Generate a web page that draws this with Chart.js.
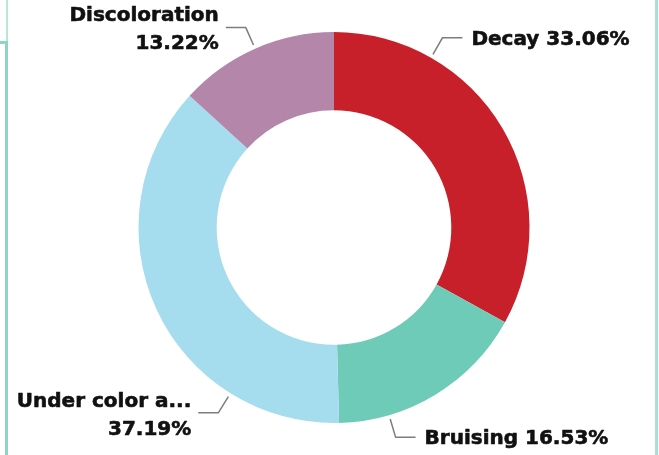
<!DOCTYPE html>
<html>
<head>
<meta charset="utf-8">
<script src="https://cdn.jsdelivr.net/npm/chart.js@4/dist/chart.umd.min.js"></script>
<style>
  html, body { margin: 0; padding: 0; background: #ffffff; }
  #wrap { position: relative; width: 659px; height: 455px; overflow: hidden; background: #ffffff; }
  #wrap canvas { position: absolute; left: 0; top: 0; }
  .bl { position: absolute; background: #8fd5c6; }
</style>
</head>
<body>
<div id="wrap">
  <canvas id="c" width="659" height="455"></canvas>
  <div class="bl" style="left:6px; top:0; width:2px; height:41px; background:#b9e6dc;"></div>
  <div class="bl" style="left:5px; top:41px; width:3px; height:414px;"></div>
  <div class="bl" style="left:0; top:41px; width:8px; height:3px;"></div>
  <div class="bl" style="left:655px; top:0; width:3px; height:455px; background:#a5e1d6;"></div>
</div>
<script>
// ---- data ----
const categories = ["Decay", "Bruising", "Under color a...", "Discoloration"];
const counts = [40, 20, 45, 16];
const sliceColors = ["#c8202a", "#6dcbb8", "#a6ddee", "#b386aa"];
// where along each slice the label leader starts (fraction of slice span)
const leaderAnchor = [0.25, 0.75, 0.25, 0.5];

const total = counts.reduce((a, b) => a + b, 0);

const labelPlugin = {
  id: 'leaderLabels',
  afterDatasetsDraw(chart) {
    const ctx = chart.ctx;
    const meta = chart.getDatasetMeta(0);
    ctx.save();
    meta.data.forEach((arc, i) => {
      const p = arc.getProps(['x', 'y', 'startAngle', 'endAngle', 'outerRadius'], true);
      const a = p.startAngle + leaderAnchor[i] * (p.endAngle - p.startAngle);
      const c = Math.cos(a), s = Math.sin(a);
      const x0 = p.x + c * (p.outerRadius + 4), y0 = p.y + s * (p.outerRadius + 4);
      const x1 = p.x + c * (p.outerRadius + 23), y1 = p.y + s * (p.outerRadius + 23);
      const right = c >= 0;
      const x2 = x1 + (right ? 20 : -20);
      ctx.beginPath();
      ctx.moveTo(x0, y0);
      ctx.lineTo(x1, y1);
      ctx.lineTo(x2, y1);
      ctx.strokeStyle = '#7d7d7d';
      ctx.lineWidth = 1.5;
      ctx.stroke();

      const pct = (counts[i] / total * 100).toFixed(2) + '%';
      ctx.font = "bold 20px 'DejaVu Sans'";
      ctx.fillStyle = '#111111';
      ctx.strokeStyle = '#111111';
      ctx.lineWidth = 0.6;
      ctx.lineJoin = 'round';
      ctx.textBaseline = 'middle';
      const put = (t, x, y) => { ctx.fillText(t, x, y); ctx.strokeText(t, x, y); };
      if (right) {
        ctx.textAlign = 'left';
        put(categories[i] + ' ' + pct, x2 + 9, y1 + 1.5);
      } else {
        ctx.textAlign = 'right';
        put(categories[i], x2 - 7, y1 - 11.5);
        put(pct, x2 - 7, y1 + 16.5);
      }
    });
    ctx.restore();
  }
};

new Chart(document.getElementById('c'), {
  type: 'doughnut',
  data: {
    labels: categories,
    datasets: [{
      data: counts,
      backgroundColor: sliceColors,
      borderWidth: 0,
      hoverOffset: 0
    }]
  },
  options: {
    responsive: false,
    animation: false,
    cutout: '60%',
    layout: { padding: { top: 32, bottom: 32, left: 9, right: 0 } },
    plugins: {
      legend: { display: false },
      tooltip: { enabled: false }
    }
  },
  plugins: [labelPlugin]
});
</script>
</body>
</html>
